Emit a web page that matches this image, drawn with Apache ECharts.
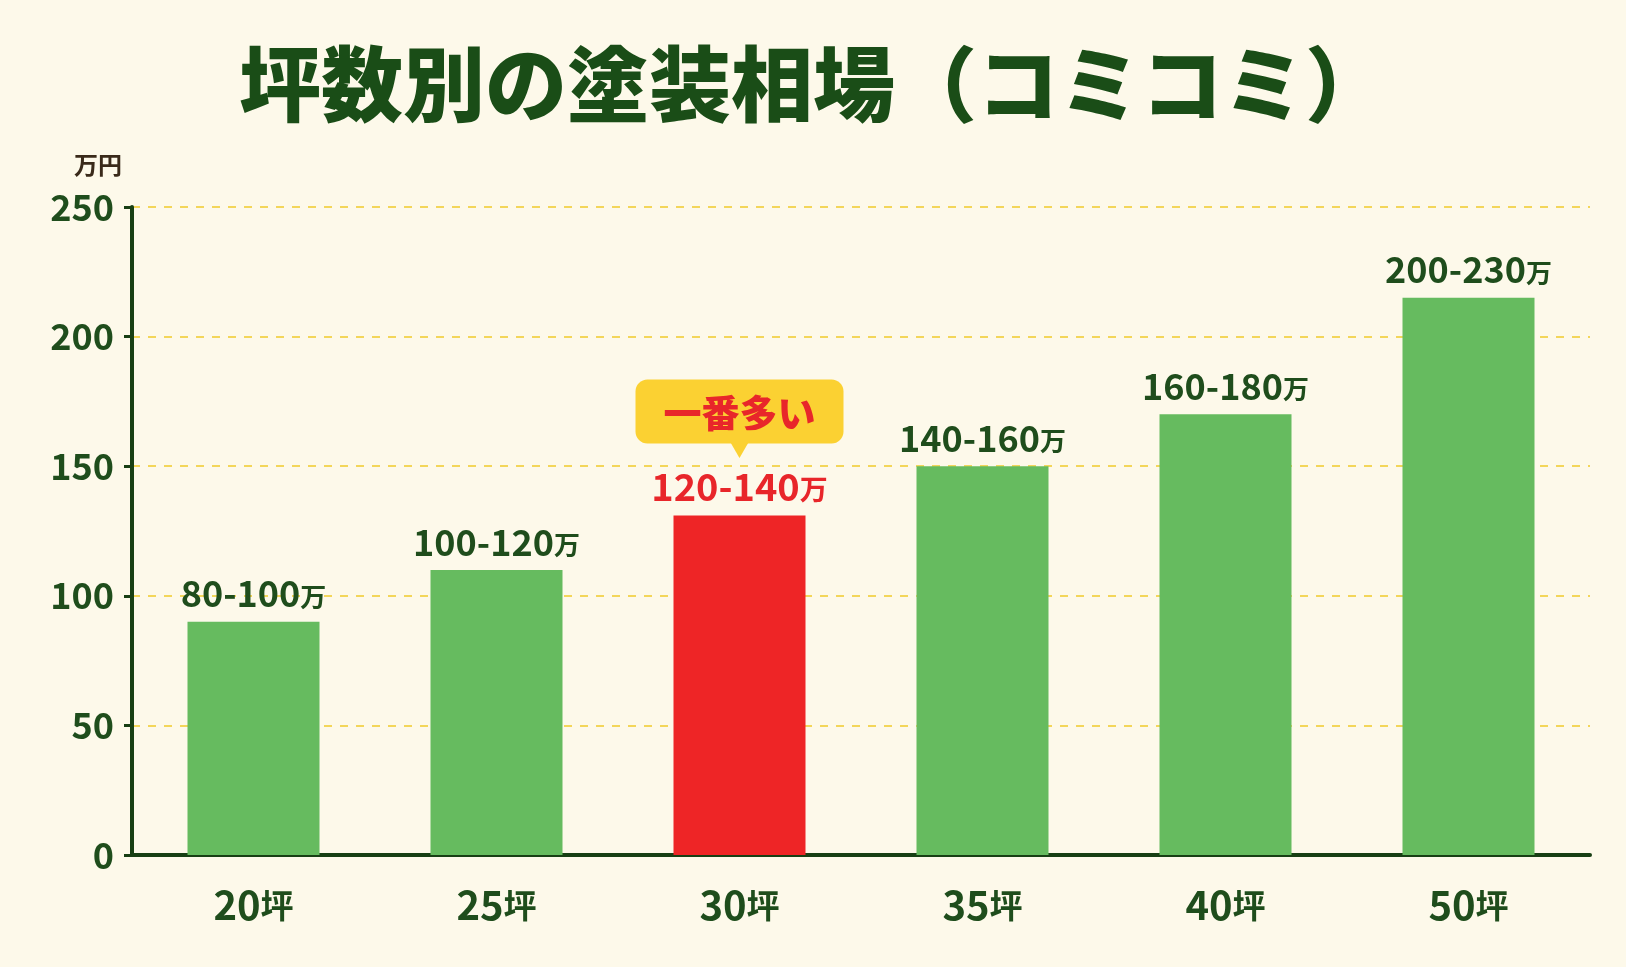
<!DOCTYPE html>
<html><head><meta charset="utf-8">
<script src="https://cdn.jsdelivr.net/npm/echarts@6/dist/echarts.min.js"></script>
<style>html,body{margin:0;background:#fdf9ea;}#main{width:1626px;height:967px;}</style>
</head><body><div id="main"></div>
<script>
var categories = ['20坪','25坪','30坪','35坪','40坪','50坪'];
var values = [90, 110, 131, 150, 170, 215];
var ranges = ['80-100','100-120','120-140','140-160','160-180','200-230'];
var yTicks = [0, 50, 100, 150, 200, 250];
var hotIndex = 2;

var chart = echarts.init(document.getElementById('main'));
var font = '"Noto Sans CJK JP", "Noto Sans", sans-serif';
var dark = '#1f4d1c';

var data = values.map(function(v, i){
    var hot = i === hotIndex;
    return {
        value: v,
        itemStyle: {color: hot ? '#ee2526' : '#66bb5f'},
        label: {
            formatter: hot ? '{box|一番多い}\n{tri|▼}\n{rv|' + ranges[i] + '}{ru|万}'
                           : '{v|' + ranges[i] + '}{u|万}'
        }
    };
});

chart.setOption({
    backgroundColor: '#fdf9ea',
    textStyle: {fontFamily: font},
    title: {
        text: '坪数別の塗装相場（コミコミ）',
        left: 'center', top: 38,
        textStyle: {fontSize: 82, fontWeight: 900, color: '#1a4d17', fontFamily: font}
    },
    grid: {left: 132, right: 36, top: 207, bottom: 112},
    xAxis: {
        type: 'category',
        data: categories,
        axisTick: {show: false},
        axisLine: {lineStyle: {color: '#183f14', width: 4}},
        axisLabel: {
            interval: 0,
            color: dark, fontSize: 36, fontWeight: 'bold', margin: 30,
            formatter: function(s){ return '{n|' + s.replace('坪','') + '}{t|坪}'; },
            rich: {
                n: {fontSize: 40, fontWeight: 'bold', color: dark, fontFamily: font},
                t: {fontSize: 33, fontWeight: 'bold', color: dark, fontFamily: font}
            }
        }
    },
    yAxis: {
        type: 'value',
        min: 0, max: 250, interval: 50,
        name: '万円',
        nameLocation: 'end',
        nameGap: 30,
        nameTextStyle: {color: '#3a2a1a', fontSize: 24, fontWeight: 'bold', align: 'right', padding: [0, 10, 0, 0]},
        axisLine: {show: true, lineStyle: {color: '#183f14', width: 4}},
        axisTick: {show: true, length: 8, lineStyle: {color: '#183f14', width: 3}},
        axisLabel: {
            color: dark, fontSize: 36, fontWeight: 'bold', margin: 18,
            formatter: function(v){ return yTicks.indexOf(v) >= 0 ? String(v) : ''; }
        },
        splitLine: {lineStyle: {color: '#f3d65a', type: [8, 8], width: 2}}
    },
    series: [{
        type: 'bar',
        data: data,
        barWidth: 132,
        label: {
            show: true,
            position: 'top',
            distance: 10,
            rich: {
                v: {fontSize: 36, fontWeight: 'bold', color: dark, fontFamily: font},
                u: {fontSize: 26, fontWeight: 'bold', color: dark, fontFamily: font, padding: [6, 0, 0, 0]},
                rv: {fontSize: 38, fontWeight: 'bold', color: '#e8262a', fontFamily: font},
                ru: {fontSize: 28, fontWeight: 'bold', color: '#e8262a', fontFamily: font, padding: [6, 0, 0, 0]},
                box: {
                    fontSize: 38, fontWeight: 900, color: '#e8262a', fontFamily: font,
                    backgroundColor: '#fbd132', borderRadius: 12,
                    padding: [14, 28, 12, 28], align: 'center'
                },
                tri: {fontSize: 34, color: '#fbd132', lineHeight: 24, padding: [-10, 0, 14, 0], align: 'center'}
            }
        }
    }]
});
</script></body></html>
